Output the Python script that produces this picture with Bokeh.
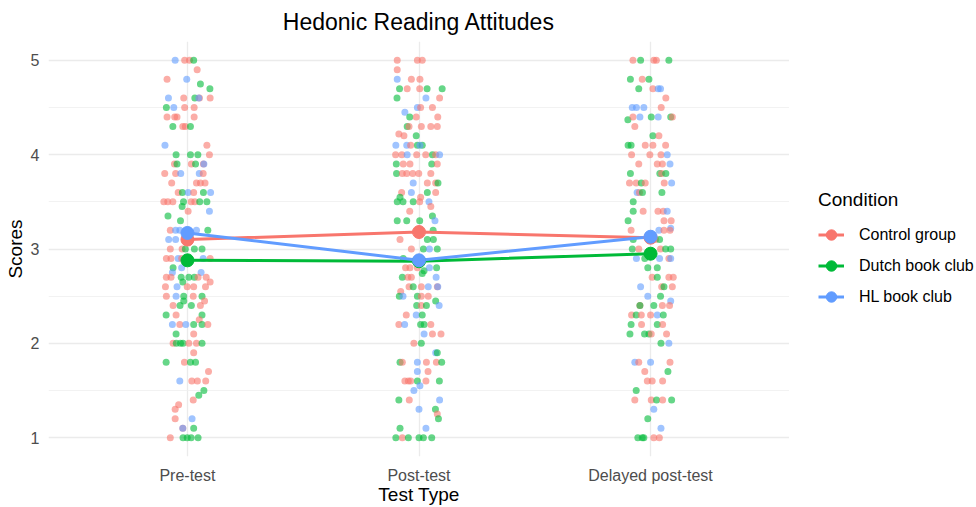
from bokeh.plotting import figure
from bokeh.layouts import row
from bokeh.models import ColumnDataSource, FixedTicker, Legend, LegendItem, Range1d
from bokeh.embed import file_html
from bokeh.resources import INLINE

tests = ["Pre-test", "Post-test", "Delayed post-test"]
conditions = ["Control group", "Dutch book club", "HL book club"]
cond_codes = ["C", "D", "H"]
colors = ["#F8766D", "#00BA38", "#619CFF"]

control_means = [3.10, 3.18, 3.12]
dutch_means = [2.88, 2.87, 2.95]
hl_means = [3.17, 2.88, 3.13]

y_ticks = [1, 2, 3, 4, 5]

# (condition, horizontal jitter in category units, score)
pre_points = [
    ("H", -0.053, 5.0), ("C", -0.012, 5.0), ("C", 0.009, 5.0), ("D", 0.027, 5.0),
    ("C", 0.042, 4.9), ("C", -0.088, 4.8), ("H", -0.003, 4.8), ("D", 0.056, 4.75),
    ("D", 0.097, 4.7), ("H", -0.082, 4.6), ("C", -0.016, 4.6), ("D", 0.032, 4.6),
    ("C", 0.052, 4.6), ("H", 0.049, 4.6), ("C", 0.098, 4.6), ("D", -0.091, 4.5),
    ("H", -0.059, 4.5), ("C", -0.012, 4.5), ("C", 0.029, 4.5), ("C", -0.088, 4.4),
    ("C", -0.055, 4.4), ("C", -0.045, 4.4), ("C", 0.029, 4.4), ("D", -0.063, 4.3),
    ("C", -0.020, 4.3), ("C", -0.009, 4.3), ("D", 0.013, 4.3), ("H", -0.097, 4.1),
    ("C", 0.084, 4.1), ("D", -0.049, 4.0), ("D", 0.013, 4.0), ("D", 0.045, 4.0),
    ("C", 0.095, 4.0), ("C", -0.056, 3.9), ("D", -0.045, 3.9), ("C", 0.017, 3.9),
    ("D", 0.035, 3.9), ("C", 0.069, 3.9), ("H", 0.071, 3.9), ("C", -0.098, 3.8),
    ("C", -0.051, 3.8), ("H", -0.029, 3.8), ("H", 0.051, 3.8), ("C", 0.068, 3.8),
    ("C", -0.068, 3.7), ("C", 0.039, 3.7), ("C", 0.056, 3.7), ("C", 0.076, 3.7),
    ("C", -0.040, 3.6), ("D", -0.022, 3.6), ("H", 0.003, 3.6), ("C", 0.027, 3.6),
    ("D", 0.069, 3.6), ("H", 0.100, 3.6), ("C", -0.102, 3.5), ("C", -0.085, 3.5),
    ("C", -0.063, 3.5), ("D", -0.017, 3.5), ("C", 0.016, 3.5), ("C", 0.032, 3.5),
    ("D", 0.053, 3.5), ("D", 0.084, 3.5), ("D", -0.023, 3.45), ("C", 0.003, 3.4),
    ("H", 0.095, 3.4), ("D", -0.084, 3.35), ("D", -0.030, 3.3), ("C", -0.074, 3.2),
    ("H", -0.051, 3.2), ("H", -0.033, 3.2), ("D", -0.001, 3.2), ("H", 0.039, 3.2),
    ("D", 0.088, 3.2), ("H", -0.081, 3.1), ("H", -0.051, 3.1),
    ("C", -0.074, 3.0), ("C", -0.023, 3.0), ("D", -0.009, 3.0), ("D", 0.030, 3.0),
    ("D", 0.063, 3.0), ("C", -0.091, 2.9), ("C", -0.071, 2.9), ("H", -0.040, 2.9),
    ("C", -0.025, 2.9), ("H", 0.068, 2.9), ("C", 0.098, 2.9), ("D", -0.062, 2.8),
    ("H", -0.065, 2.75), ("H", -0.025, 2.8), ("H", 0.059, 2.75), ("C", -0.091, 2.7),
    ("C", -0.071, 2.7), ("D", -0.027, 2.7), ("D", 0.006, 2.7), ("D", 0.030, 2.7),
    ("C", 0.046, 2.7), ("C", 0.081, 2.7), ("C", 0.098, 2.65), ("D", -0.020, 2.65),
    ("C", -0.095, 2.6), ("H", -0.045, 2.6), ("C", -0.001, 2.6), ("C", 0.027, 2.6),
    ("C", 0.078, 2.6), ("C", -0.091, 2.5), ("H", -0.049, 2.5), ("D", -0.016, 2.5),
    ("C", 0.025, 2.5), ("D", 0.063, 2.5), ("C", 0.074, 2.45), ("D", -0.016, 2.45),
    ("C", -0.062, 2.4), ("D", -0.032, 2.4), ("D", 0.017, 2.4), ("C", 0.056, 2.4),
    ("D", -0.092, 2.3), ("C", -0.049, 2.3), ("D", 0.063, 2.3), ("C", 0.051, 2.25),
    ("H", -0.065, 2.2), ("C", -0.033, 2.2), ("H", -0.007, 2.2), ("D", 0.027, 2.2),
    ("D", 0.063, 2.2), ("C", 0.088, 2.2), ("D", -0.049, 2.1), ("C", 0.027, 2.1),
    ("C", -0.062, 2.0), ("D", -0.048, 2.0), ("D", -0.030, 2.0), ("D", -0.019, 2.0),
    ("C", 0.006, 2.0), ("C", 0.039, 2.0), ("D", 0.063, 2.0), ("C", 0.027, 1.9),
    ("D", -0.092, 1.8), ("C", -0.013, 1.8), ("D", 0.013, 1.8), ("D", 0.035, 1.8),
    ("C", 0.091, 1.7), ("H", -0.033, 1.6), ("C", 0.019, 1.6), ("C", 0.043, 1.6),
    ("C", 0.079, 1.6), ("D", 0.071, 1.5), ("D", 0.049, 1.45), ("C", 0.025, 1.4),
    ("C", -0.038, 1.35), ("C", -0.053, 1.3), ("C", -0.053, 1.2), ("H", 0.020, 1.2),
    ("C", -0.020, 1.1), ("H", -0.020, 1.1), ("D", 0.027, 1.1), ("C", -0.074, 1.0),
    ("D", -0.019, 1.0), ("D", -0.001, 1.0), ("D", 0.016, 1.0), ("D", 0.046, 1.0),
]

post_points = [
    ("C", -0.094, 5.0), ("C", -0.007, 5.0), ("C", 0.014, 5.0), ("C", -0.094, 4.9),
    ("H", -0.094, 4.8), ("C", -0.033, 4.8), ("C", 0.004, 4.8), ("D", -0.084, 4.7),
    ("C", -0.051, 4.7), ("C", 0.003, 4.7), ("D", 0.035, 4.7), ("D", 0.100, 4.7),
    ("D", -0.095, 4.6), ("H", 0.030, 4.6), ("C", 0.089, 4.6), ("H", -0.007, 4.5),
    ("C", 0.007, 4.5), ("C", 0.058, 4.5), ("H", -0.061, 4.45), ("D", -0.040, 4.4),
    ("C", -0.012, 4.4), ("C", 0.081, 4.4), ("D", -0.051, 4.3), ("C", -0.043, 4.3),
    ("C", 0.010, 4.3), ("C", 0.051, 4.3), ("C", 0.079, 4.3), ("C", -0.087, 4.22),
    ("C", -0.065, 4.2), ("D", -0.012, 4.2), ("H", -0.100, 4.1), ("H", -0.053, 4.1),
    ("C", -0.036, 4.1), ("D", -0.007, 4.1), ("D", 0.014, 4.1), ("H", 0.004, 4.1),
    ("C", -0.101, 4.0), ("C", -0.074, 4.0), ("H", -0.051, 4.0), ("C", -0.010, 4.0),
    ("C", 0.029, 4.0), ("D", 0.058, 4.0), ("C", 0.072, 4.0), ("H", 0.089, 4.0),
    ("D", -0.098, 3.9), ("C", -0.068, 3.9), ("C", -0.039, 3.9), ("D", 0.055, 3.9),
    ("C", 0.079, 3.9), ("D", -0.097, 3.8), ("C", -0.072, 3.8), ("C", -0.053, 3.8),
    ("C", -0.027, 3.8), ("C", -0.001, 3.8), ("C", 0.051, 3.8), ("H", -0.025, 3.7),
    ("C", 0.036, 3.7), ("C", 0.072, 3.7), ("D", 0.082, 3.7), ("C", -0.075, 3.6),
    ("H", -0.033, 3.6), ("D", 0.036, 3.6), ("C", 0.072, 3.6), ("D", -0.082, 3.55),
    ("C", 0.007, 3.55), ("D", -0.094, 3.5), ("D", -0.069, 3.5), ("D", -0.025, 3.5),
    ("C", 0.003, 3.5), ("H", 0.043, 3.5), ("C", 0.051, 3.45), ("C", -0.040, 3.4),
    ("D", 0.058, 3.35), ("H", 0.069, 3.3), ("D", -0.094, 3.3), ("D", -0.053, 3.3),
    ("D", 0.003, 3.3), ("D", 0.061, 3.2), ("C", -0.082, 3.1), ("D", 0.036, 3.1),
    ("D", 0.062, 3.1), ("C", -0.033, 3.0), ("D", 0.019, 3.0), ("H", 0.045, 3.0),
    ("D", 0.079, 3.0),
    ("D", -0.068, 2.9), ("C", -0.058, 2.8), ("C", -0.039, 2.8), ("C", -0.007, 2.8),
    ("D", 0.022, 2.77), ("D", 0.014, 2.74), ("H", 0.045, 2.8), ("D", 0.076, 2.8),
    ("D", -0.072, 2.7), ("C", -0.048, 2.7), ("C", -0.033, 2.7), ("H", 0.074, 2.7),
    ("C", -0.043, 2.6), ("D", -0.025, 2.6), ("C", 0.010, 2.6), ("H", 0.040, 2.6),
    ("C", 0.079, 2.6), ("H", 0.081, 2.6), ("C", -0.079, 2.55), ("D", -0.085, 2.5),
    ("H", -0.069, 2.5), ("D", -0.007, 2.5), ("C", 0.010, 2.5), ("C", 0.040, 2.5),
    ("D", 0.072, 2.45), ("H", 0.087, 2.4), ("D", -0.010, 2.4), ("C", 0.010, 2.4),
    ("D", 0.032, 2.4), ("C", -0.055, 2.3), ("H", -0.012, 2.3), ("D", 0.014, 2.3),
    ("C", -0.087, 2.2), ("H", -0.062, 2.2), ("D", 0.007, 2.2), ("D", 0.022, 2.2),
    ("C", 0.051, 2.2), ("H", 0.022, 2.1), ("C", 0.058, 2.1), ("C", 0.095, 2.1),
    ("C", -0.022, 2.0), ("D", 0.010, 2.0), ("H", 0.072, 1.9), ("D", 0.079, 1.9),
    ("D", -0.082, 1.8), ("C", -0.072, 1.8), ("H", -0.007, 1.8), ("C", 0.032, 1.8),
    ("C", 0.075, 1.8), ("D", 0.098, 1.8), ("H", -0.007, 1.7), ("C", 0.039, 1.7),
    ("C", -0.061, 1.6), ("C", -0.046, 1.6), ("C", -0.036, 1.6), ("D", -0.007, 1.6),
    ("C", 0.030, 1.6), ("D", 0.088, 1.6), ("H", 0.004, 1.55), ("H", -0.022, 1.5),
    ("D", -0.087, 1.4), ("C", -0.042, 1.4), ("H", 0.089, 1.4), ("H", 0.000, 1.3),
    ("D", 0.071, 1.3), ("C", 0.079, 1.25), ("D", 0.084, 1.2), ("D", -0.082, 1.1),
    ("H", 0.030, 1.1), ("D", -0.100, 1.0), ("C", -0.072, 1.0), ("D", -0.046, 1.0),
    ("D", 0.000, 1.0), ("D", 0.019, 1.0), ("D", 0.055, 1.0),
]

delayed_points = [
    ("C", -0.076, 5.0), ("D", -0.043, 5.0), ("C", 0.014, 5.0), ("C", 0.025, 5.0),
    ("D", 0.079, 5.0), ("D", -0.087, 4.8), ("C", -0.036, 4.8), ("D", -0.007, 4.8),
    ("D", -0.051, 4.7), ("C", 0.010, 4.7), ("H", 0.033, 4.7), ("H", 0.043, 4.7),
    ("C", 0.066, 4.6), ("H", -0.079, 4.5), ("H", -0.061, 4.5), ("H", -0.029, 4.5),
    ("C", 0.046, 4.5), ("D", -0.098, 4.37), ("C", -0.076, 4.4), ("H", -0.046, 4.4),
    ("D", 0.003, 4.4), ("H", 0.033, 4.4), ("D", 0.087, 4.4), ("C", 0.094, 4.4),
    ("C", -0.068, 4.3), ("D", 0.010, 4.2), ("C", 0.036, 4.2), ("D", -0.097, 4.1),
    ("D", -0.084, 4.1), ("C", -0.023, 4.1), ("C", 0.010, 4.1), ("C", 0.065, 4.1),
    ("C", -0.082, 4.0), ("C", -0.003, 4.0), ("C", 0.045, 4.0), ("H", 0.072, 4.0),
    ("C", -0.051, 3.9), ("C", 0.029, 3.9), ("C", 0.051, 3.9), ("H", 0.084, 3.9),
    ("D", -0.087, 3.8), ("D", 0.040, 3.8), ("C", 0.048, 3.8), ("D", 0.066, 3.8),
    ("C", -0.091, 3.7), ("C", -0.062, 3.7), ("D", -0.040, 3.7), ("C", -0.023, 3.7),
    ("C", 0.059, 3.7), ("H", 0.091, 3.7), ("H", -0.058, 3.6), ("C", -0.048, 3.6),
    ("D", -0.035, 3.6), ("D", 0.049, 3.6), ("D", -0.075, 3.5), ("D", -0.075, 3.4),
    ("C", -0.032, 3.4), ("C", 0.032, 3.4), ("C", 0.055, 3.4), ("H", 0.072, 3.4),
    ("D", -0.097, 3.3), ("C", 0.058, 3.3), ("C", 0.089, 3.3), ("H", 0.087, 3.22),
    ("C", -0.084, 3.2), ("H", 0.036, 3.2), ("C", 0.058, 3.2), ("C", 0.084, 3.2),
    ("D", -0.075, 3.1), ("C", 0.022, 3.1), ("D", 0.039, 3.1),
    ("D", -0.079, 3.0), ("C", -0.051, 3.0), ("C", 0.043, 3.0), ("D", 0.065, 3.0),
    ("D", 0.087, 3.0), ("H", -0.061, 2.9), ("D", -0.025, 2.9), ("H", 0.039, 2.9),
    ("C", 0.079, 2.9), ("H", 0.087, 2.9), ("D", -0.012, 2.8), ("D", 0.029, 2.8),
    ("C", 0.007, 2.7), ("D", 0.029, 2.7), ("C", 0.079, 2.7), ("C", 0.098, 2.7),
    ("H", -0.043, 2.6), ("C", 0.048, 2.6), ("D", 0.058, 2.6), ("C", 0.094, 2.6),
    ("H", -0.012, 2.5), ("D", 0.043, 2.5), ("H", 0.087, 2.45), ("C", -0.046, 2.4),
    ("D", -0.046, 2.4), ("D", 0.014, 2.4), ("C", 0.051, 2.4), ("C", 0.082, 2.4),
    ("C", -0.082, 2.3), ("D", -0.062, 2.3), ("C", -0.040, 2.3), ("C", 0.000, 2.3),
    ("H", 0.029, 2.3), ("D", 0.055, 2.3), ("D", -0.084, 2.2), ("C", -0.039, 2.2),
    ("D", 0.029, 2.2), ("C", 0.052, 2.2), ("D", -0.089, 2.1), ("D", -0.026, 2.1),
    ("D", -0.007, 2.1), ("C", 0.003, 2.1), ("C", 0.069, 2.1), ("D", 0.045, 2.0),
    ("H", 0.079, 2.0), ("H", -0.068, 1.8), ("C", -0.051, 1.8), ("H", 0.000, 1.8),
    ("C", 0.084, 1.8), ("C", -0.025, 1.7), ("D", 0.075, 1.7), ("C", -0.014, 1.6),
    ("C", 0.007, 1.6), ("C", 0.052, 1.6), ("D", -0.062, 1.5), ("C", -0.068, 1.4),
    ("C", 0.003, 1.4), ("D", 0.026, 1.4), ("C", 0.052, 1.4), ("D", 0.091, 1.4),
    ("H", 0.014, 1.3), ("D", -0.012, 1.2), ("H", 0.045, 1.1), ("D", -0.055, 1.0),
    ("D", -0.036, 1.0), ("D", -0.029, 1.0), ("C", 0.014, 1.0), ("C", 0.038, 1.0),
]

FONT = "Liberation Sans"

# ---- build sources ----
code_color = dict(zip(cond_codes, colors))
xs, ys, cs = [], [], []
for i, pts in enumerate([pre_points, post_points, delayed_points]):
    for code, jit, score in pts:
        xs.append(i + 1 + jit)
        ys.append(score)
        cs.append(code_color[code])
pts_src = ColumnDataSource(dict(x=xs, y=ys, color=cs))

positions = list(range(1, len(tests) + 1))
means = [control_means, dutch_means, hl_means]

# ---------------- main plot ----------------
p = figure(width=789, height=507, output_backend="svg", toolbar_location=None,
           x_range=Range1d(0.4, len(tests) + 0.6), y_range=Range1d(0.8, 5.2),
           min_border_left=48, min_border_right=0, min_border_top=41,
           min_border_bottom=50, background_fill_color="white",
           border_fill_color="white")
p.outline_line_color = None

p.title.text = "Hedonic Reading Attitudes"
p.title.align = "center"
p.title.text_font = FONT
p.title.text_font_size = "23px"
p.title.text_font_style = "normal"
p.title.text_color = "black"
p.title.standoff = 13

# grids
p.xgrid.ticker = FixedTicker(ticks=positions)
p.xgrid.grid_line_color = "#EBEBEB"
p.xgrid.grid_line_width = 1.3
minor = [(a + b) / 2 for a, b in zip(y_ticks[:-1], y_ticks[1:])]
p.ygrid.ticker = FixedTicker(ticks=y_ticks, minor_ticks=minor)
p.ygrid.grid_line_color = "#EBEBEB"
p.ygrid.grid_line_width = 1.3
p.ygrid.minor_grid_line_color = "#EFEFEF"
p.ygrid.minor_grid_line_width = 0.8

# axes
p.xaxis.ticker = FixedTicker(ticks=positions)
p.xaxis.major_label_overrides = {pos: t for pos, t in zip(positions, tests)}
p.yaxis.ticker = FixedTicker(ticks=y_ticks)
for ax in (p.xaxis[0], p.yaxis[0]):
    ax.axis_line_color = None
    ax.major_tick_line_color = None
    ax.minor_tick_line_color = None
    ax.major_tick_out = 0
    ax.major_tick_in = 0
    ax.minor_tick_out = 0
    ax.minor_tick_in = 0
    ax.major_label_text_font = FONT
    ax.major_label_text_font_size = "16px"
    ax.major_label_text_color = "#4D4D4D"
    ax.axis_label_text_font = FONT
    ax.axis_label_text_font_size = "19px"
    ax.axis_label_text_font_style = "normal"
    ax.axis_label_text_color = "black"
p.xaxis.axis_label = "Test Type"
p.yaxis.axis_label = "Scores"
p.xaxis.major_label_standoff = 10
p.xaxis.axis_label_standoff = -3
p.yaxis.major_label_standoff = 9
p.yaxis.axis_label_standoff = 2

# jittered points
p.scatter("x", "y", source=pts_src, size=7, fill_color="color", line_color=None,
          fill_alpha=0.6)

# mean lines and points
for m, c in zip(means, colors):
    p.line(positions, m, line_color=c, line_width=3)
for m, c in zip(means, colors):
    p.scatter(positions, m, size=13, fill_color=c, line_color=c)

# ---------------- legend panel ----------------
# key renderers carry the same mean data; the panel's ranges keep them off-view
lp = figure(width=187, height=507, output_backend="svg", toolbar_location=None,
            x_axis_type=None, y_axis_type=None, x_range=Range1d(-2, -1),
            y_range=Range1d(-2, -1), min_border=0, min_border_left=0,
            min_border_right=0, min_border_top=0, min_border_bottom=0,
            background_fill_color="white", border_fill_color="white")
lp.outline_line_color = None
lp.title.visible = False

items = []
for lab, m, c in zip(conditions, means, colors):
    kl = lp.line(positions, m, line_color=c, line_width=3)
    kd = lp.scatter(positions, m, size=13, fill_color=c, line_color=c)
    items.append(LegendItem(label=lab, renderers=[kl, kd]))

legend = Legend(items=items, title="Condition", location=(29, 144),
                title_text_font=FONT, title_text_font_size="19px",
                title_text_font_style="normal", title_text_color="black",
                label_text_font=FONT, label_text_font_size="16px",
                label_text_color="black",
                glyph_width=26, glyph_height=31, label_height=31,
                label_standoff=15, spacing=0, padding=0, margin=0,
                title_standoff=8, border_line_color=None,
                background_fill_alpha=0)
lp.add_layout(legend, "center")

layout = row(p, lp)
open("out.html", "w").write(file_html(layout, INLINE))
